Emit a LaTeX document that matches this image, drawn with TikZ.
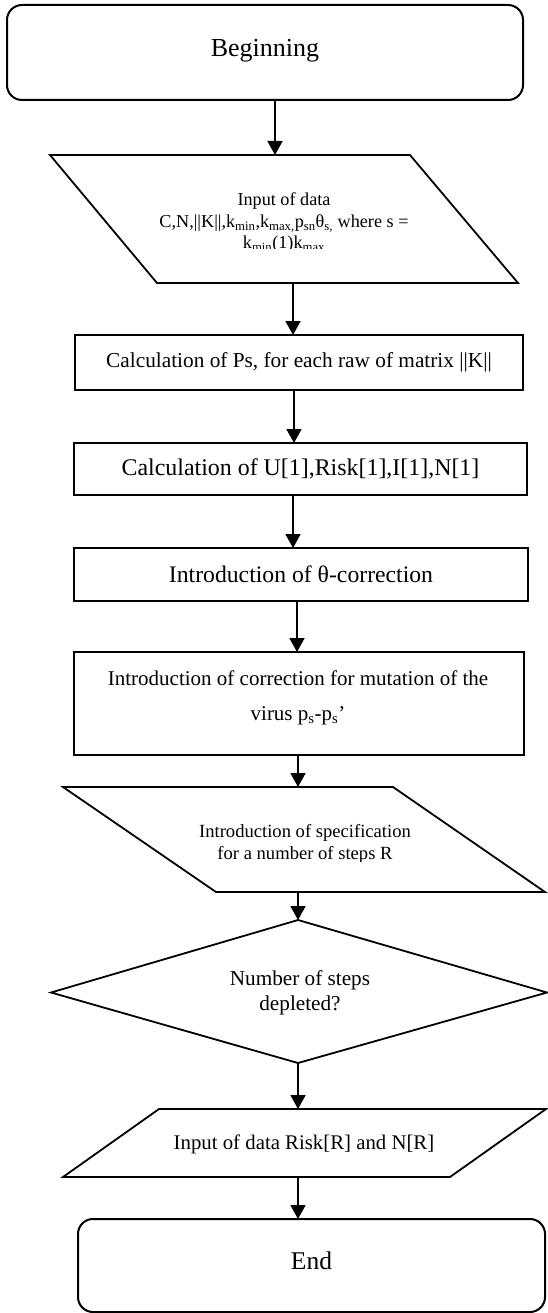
\documentclass[tikz,border=0pt]{standalone}
\usepackage{fontspec}
\setmainfont{Liberation Serif}
\usetikzlibrary{arrows.meta}
\newcommand{\setfs}[2]{\fontsize{#1}{#2}\selectfont}
\begin{document}
\begin{tikzpicture}[x=1pt,y=-1pt,
  box/.style={draw, rectangle, line width=2pt, inner sep=0pt, outer sep=0pt, align=center},
  term/.style={box, rounded corners=15pt, text depth=10pt},
  shp/.style={draw, line width=1.8pt, line join=miter},
  txt/.style={inner sep=0pt, align=center},
  arr/.style={draw, line width=1.8pt, -{Triangle[length=14pt,width=15pt]}}]
\useasboundingbox (0,0) rectangle (547,1313);

% Beginning
\node[term, minimum width=516pt, minimum height=95pt, font=\setfs{26}{30}] (beg) at (265,52.5) {Beginning};

% Input of data (parallelogram)
\draw[shp] (50,155) -- (410,155) -- (518,283) -- (157,283) -- cycle;
\coordinate (inpN) at (275,155);
\coordinate (inpS) at (293,283);
\begin{scope}
\clip (0,150) rectangle (547,249);
\node[txt, font=\setfs{18.2}{21.5}] (inp) at (284,223) {Input of data\\C,N,||K||,k\textsubscript{min},k\textsubscript{max,}p\textsubscript{sn}θ\textsubscript{s,} where s =\\k\textsubscript{min}(1)k\textsubscript{max}};
\end{scope}

% Calculation of Ps
\node[box, minimum width=448pt, minimum height=55pt, font=\setfs{21.3}{25}] (calc) at (299,362.5) {Calculation of Ps, for each raw of matrix ||K||};

% Calculation of U
\node[box, minimum width=453pt, minimum height=52pt, font=\setfs{23.9}{28}] (uu) at (300.5,469) {Calculation of U[1],Risk[1],I[1],N[1]};

% theta correction
\node[box, minimum width=454pt, minimum height=53pt, font=\setfs{23.7}{28}] (th) at (301,574.5) {Introduction of θ-correction};

% mutation
\node[box, minimum width=450pt, minimum height=103pt] (mut) at (299,703.5) {};
\node[txt, font=\setfs{21}{35}] (mutT) at (298,697.5) {Introduction of correction for mutation of the\\virus p\textsubscript{s}-p\textsubscript{s}’};

% specification (parallelogram)
\draw[shp] (63,787) -- (393,787) -- (545,892) -- (216,892) -- cycle;
\coordinate (specN) at (298,787);
\coordinate (specS) at (298,892);
\begin{scope}
\clip (0,780) rectangle (547,861);
\node[txt, font=\setfs{18.6}{22}] (spec) at (305,844) {Introduction of specification\\for a number of steps R};
\end{scope}

% decision
\draw[shp] (298,920) -- (547,992.5) -- (298,1063) -- (51,992.5) -- cycle;
\coordinate (decN) at (298,920);
\coordinate (decS) at (298,1063);
\node[txt, font=\setfs{21.2}{25}] (dec) at (300,992.5) {Number of steps\\depleted?};

% output Risk
\draw[shp] (159,1109) -- (546,1109) -- (450,1177) -- (63,1177) -- cycle;
\coordinate (riskN) at (298,1109);
\coordinate (riskS) at (298,1177);
\node[txt, font=\setfs{20.8}{25}] (risk) at (304,1144) {Input of data Risk[R] and N[R]};

% End
\node[term, minimum width=467pt, minimum height=93pt, font=\setfs{25.5}{30}] (fin) at (311.5,1265.5) {End};

% connectors
\draw[arr] (beg.south -| 275,0) -- (inpN);
\draw[arr] (inpS) -- (calc.north -| 293,0);
\draw[arr] (calc.south -| 294,0) -- (uu.north -| 294,0);
\draw[arr] (uu.south -| 293,0) -- (th.north -| 293,0);
\draw[arr] (th.south -| 297,0) -- (mut.north -| 297,0);
\draw[arr] (mut.south -| 298,0) -- (specN);
\draw[arr] (specS) -- (decN);
\draw[arr] (decS) -- (riskN);
\draw[arr] (riskS) -- (fin.north -| 298,0);
\end{tikzpicture}
\end{document}
